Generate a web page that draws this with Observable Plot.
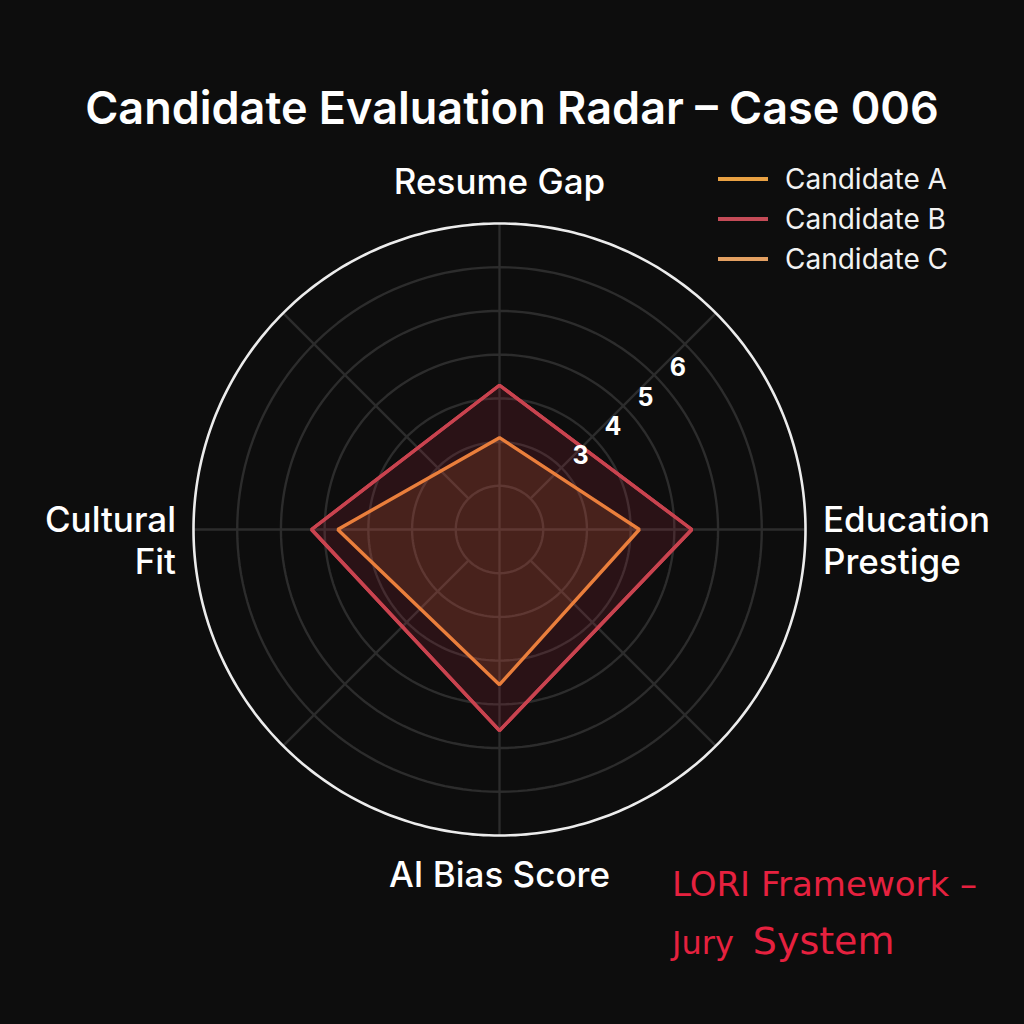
<!DOCTYPE html>
<html>
<head>
<meta charset="utf-8">
<script src="https://cdn.jsdelivr.net/npm/d3@7"></script>
<script src="https://cdn.jsdelivr.net/npm/@observablehq/plot@0.6"></script>
<style>
  html, body { margin: 0; padding: 0; background: #0d0d0d; }
  #wrap { position: relative; width: 1024px; height: 1024px; overflow: hidden; background: #0d0d0d; font-family: Inter, "Noto Sans", sans-serif; }
  #chart { position: absolute; left: 0; top: 0; }
  #title { position: absolute; left: 0; top: 85px; width: 1024px; text-align: center; color: #ffffff; font-size: 45px; font-weight: 600; line-height: 1; white-space: nowrap; }
  #legend { position: absolute; left: 718px; top: 159px; }
  .lg-row { display: flex; align-items: center; height: 40px; }
  .lg-line { width: 50px; height: 4px; margin-right: 17px; }
  .lg-text { color: #f2f2f2; font-size: 28px; font-weight: 400; line-height: 1; white-space: nowrap; }
  #caption { position: absolute; left: 672px; top: 867px; color: #e6213f; font-family: "DejaVu Sans", sans-serif; line-height: 1; white-space: nowrap; }
  #cap1 { font-size: 34px; }
  #cap2 { margin-top: 21px; }
  #cap2 .j { font-size: 32px; }
  #cap2 .s { font-size: 38px; margin-left: 19px; }
</style>
</head>
<body>
<div id="wrap">
  <div id="chart"></div>
  <div id="title"></div>
  <div id="legend"></div>
  <div id="caption"></div>
</div>
<script>
// ---- data ----
const titleText = "Candidate Evaluation Radar – Case 006";
const axes = ["Resume Gap", "Education Prestige", "AI Bias Score", "Cultural Fit"];
const candidates = ["Candidate A", "Candidate B", "Candidate C"];
const scoresA = [2.1, 3.2, 3.55, 3.7];
const scoresB = [3.3, 4.4, 4.6, 4.3];
const scoresC = [3.3, 4.4, 4.6, 4.3];
const ringValues = [1, 2, 3, 4, 5, 6];
const outerValue = 7;
const tickLabels = [3, 4, 5, 6];
const captionLine1 = "LORI Framework –";
const captionLine2a = "Jury";
const captionLine2b = "System";

// ---- styles ----
const legendColors = {"Candidate A": "#e9a143", "Candidate B": "#c44b57", "Candidate C": "#e3a062"};
const strokeColors = {"Candidate A": "#ea7f3c", "Candidate B": "#c9434f", "Candidate C": "#c9434f"};
const fillColors = {"Candidate A": "#e8783c", "Candidate B": "#c8324a", "Candidate C": "#c8324a"};
const fillOpac = {"Candidate A": 0.16, "Candidate B": 0.16, "Candidate C": 0};
const cx = 499, cy = 529, R = 306;

// ---- geometry helpers ----
const angleOf = i => Math.PI / 2 - i * (2 * Math.PI / axes.length);
const polar = (r, a) => ({x: r * Math.cos(a), y: r * Math.sin(a)});

const scoreSets = {"Candidate A": scoresA, "Candidate B": scoresB, "Candidate C": scoresC};
const drawOrder = ["Candidate C", "Candidate B", "Candidate A"];
const polyPts = drawOrder.flatMap(c => scoreSets[c].map((v, i) => ({cand: c, axis: axes[i], value: v, ...polar(v, angleOf(i))})));

const ringPts = ringValues.flatMap(r => d3.range(0, 360, 2).map(deg => ({ring: r, ...polar(r, deg * Math.PI / 180)})));
const outerPts = d3.range(0, 360, 1).map(deg => ({ring: outerValue, ...polar(outerValue, deg * Math.PI / 180)}));

const spokes = d3.range(8).map(k => {
  const a = Math.PI / 2 - k * Math.PI / 4;
  const r0 = k % 2 === 0 ? 0 : ringValues[0];
  const p0 = polar(r0, a), p1 = polar(outerValue, a);
  return {x1: p0.x, y1: p0.y, x2: p1.x, y2: p1.y};
});

const tickAngle = Math.PI / 4 - 0.05;
const tickPts = tickLabels.map(v => ({label: String(v), ...polar(v - 0.5, tickAngle)}));

const labelPts = axes.map((name, i) => {
  const side = i % 2 === 1;
  const r = side ? 7.4 : 7.92;
  return {name: side ? name.replace(" ", "\n") : name, i, ...polar(r, angleOf(i))};
});

const font = "Inter, 'Noto Sans', sans-serif";

const chart = Plot.plot({
  width: 1024,
  height: 1024,
  margin: 0,
  style: {background: "transparent", fontFamily: font, overflow: "visible"},
  x: {domain: [-outerValue, outerValue], range: [cx - R, cx + R], axis: null},
  y: {domain: [-outerValue, outerValue], range: [cy + R, cy - R], axis: null},
  marks: [
    Plot.line(ringPts, {x: "x", y: "y", z: "ring", curve: "linear-closed", stroke: "#2c2c2c", strokeWidth: 2.4}),
    Plot.link(spokes, {x1: "x1", y1: "y1", x2: "x2", y2: "y2", stroke: "#2c2c2c", strokeWidth: 2.4}),
    ...drawOrder.map(c => Plot.line(polyPts.filter(d => d.cand === c), {
      x: "x", y: "y", curve: "linear-closed",
      fill: fillColors[c], fillOpacity: fillOpac[c],
      stroke: strokeColors[c], strokeWidth: 3.4, strokeLinejoin: "miter"
    })),
    Plot.line(outerPts, {x: "x", y: "y", curve: "linear-closed", stroke: "#ececec", strokeWidth: 2.6}),
    Plot.text(tickPts, {x: "x", y: "y", text: "label", fill: "#ffffff", fontSize: 25, fontWeight: 700, fontFamily: font}),
    Plot.text(labelPts.filter(d => d.i % 2 === 0), {x: "x", y: "y", text: "name", fill: "#ffffff", fontSize: 35, fontWeight: 500, fontFamily: font, textAnchor: "middle"}),
    Plot.text(labelPts.filter(d => d.i === 1), {x: "x", y: "y", text: "name", fill: "#ffffff", fontSize: 35, fontWeight: 500, fontFamily: font, textAnchor: "start", lineHeight: 1.2, dy: 10}),
    Plot.text(labelPts.filter(d => d.i === 3), {x: "x", y: "y", text: "name", fill: "#ffffff", fontSize: 35, fontWeight: 500, fontFamily: font, textAnchor: "end", lineHeight: 1.2, dy: 10})
  ]
});
document.getElementById("chart").appendChild(chart);

document.getElementById("title").textContent = titleText;

const legend = document.getElementById("legend");
candidates.forEach(c => {
  const row = document.createElement("div");
  row.className = "lg-row";
  const ln = document.createElement("div");
  ln.className = "lg-line";
  ln.style.background = legendColors[c];
  const tx = document.createElement("div");
  tx.className = "lg-text";
  tx.textContent = c;
  row.appendChild(ln); row.appendChild(tx);
  legend.appendChild(row);
});

const cap = document.getElementById("caption");
const c1 = document.createElement("div"); c1.id = "cap1"; c1.textContent = captionLine1;
const c2 = document.createElement("div"); c2.id = "cap2";
const j = document.createElement("span"); j.className = "j"; j.textContent = captionLine2a;
const s = document.createElement("span"); s.className = "s"; s.textContent = captionLine2b;
c2.appendChild(j); c2.appendChild(s);
cap.appendChild(c1); cap.appendChild(c2);
</script>
</body>
</html>
